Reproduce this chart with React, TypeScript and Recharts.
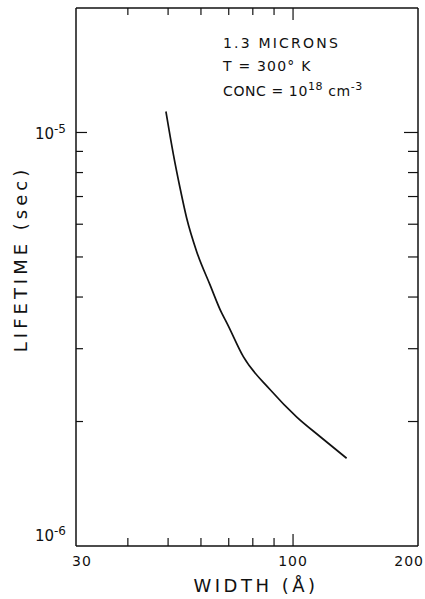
import { LineChart, Line, XAxis, YAxis, Label } from "recharts";

// lifetime vs well width, 1.3 microns, 300 K
const widths = [49.4, 51.5, 53.4, 55.4, 58.6, 63.1, 67.3, 69.2, 75.9, 88.0, 102.1, 116.1, 134.6];
const lifetimes = [11.24e-6, 8.84e-6, 7.36e-6, 6.22e-6, 5.15e-6, 4.28e-6, 3.66e-6, 3.47e-6, 2.87e-6, 2.39e-6, 2.05e-6, 1.84e-6, 1.63e-6];

const xTicks = [30, 40, 50, 60, 70, 80, 90, 100, 200];
const xLabels: Record<number, string> = { 30: "30", 100: "100", 200: "200" };
const yTicks = [1e-6, 2e-6, 3e-6, 4e-6, 5e-6, 6e-6, 7e-6, 8e-6, 9e-6, 1e-5, 2e-5];
const yLabels: Record<number, string> = { 1e-6: "-6", 1e-5: "-5" };

const data = widths.map((w, i) => ({ width: w, lifetime: lifetimes[i] }));

const FONT = "'DejaVu Sans', sans-serif";
const INK = "#111";

function BottomTick({ x, y, payload }: any) {
  const v = payload.value;
  const major = v === 100;
  const len = major ? 12 : 8;
  // the last label sits on the page edge, keep it inside
  const tx = v === 30 ? x + 6 : v === 200 ? x + 6 : x;
  const anchor = v === 200 ? "end" : "middle";
  return (
    <g>
      {v !== 30 && v !== 200 && <line x1={x} y1={y} x2={x} y2={y - len} stroke={INK} strokeWidth={1.2} />}
      {xLabels[v] && (
        <text x={tx} y={y + 20} textAnchor={anchor} fontFamily={FONT} fontSize={14} letterSpacing={1} fill={INK}>
          {xLabels[v]}
        </text>
      )}
    </g>
  );
}

function TopTick({ x, y, payload }: any) {
  const v = payload.value;
  if (v === 30 || v === 200) return <g />;
  const len = v === 100 ? 12 : 7;
  return <line x1={x} y1={y} x2={x} y2={y + len} stroke={INK} strokeWidth={1.2} />;
}

function PowerLabel({ x, y, exp }: { x: number; y: number; exp: string }) {
  return (
    <text x={x} y={y} textAnchor="end" fontFamily={FONT} fontSize={15} fill={INK}>
      10<tspan dy={-6} fontSize={12}>{exp}</tspan>
    </text>
  );
}

function LeftTick({ x, y, payload }: any) {
  const v = payload.value;
  if (v === 2e-5) return <g />;
  if (v === 1e-6) return <PowerLabel x={x - 10} y={y - 5} exp={yLabels[v]} />;
  const major = v === 1e-5;
  return (
    <g>
      <line x1={x} y1={y} x2={x + (major ? 11 : 7)} y2={y} stroke={INK} strokeWidth={1.2} />
      {major && <PowerLabel x={x - 10} y={y + 7} exp={yLabels[v]} />}
    </g>
  );
}

function RightTick({ x, y, payload }: any) {
  const v = payload.value;
  if (v === 1e-6 || v === 2e-5) return <g />;
  const len = v === 1e-5 ? 14 : 10;
  return <line x1={x} y1={y} x2={x - len} y2={y} stroke={INK} strokeWidth={1.2} />;
}

export default function App() {
  return (
    <div style={{ position: "absolute", left: 0, top: 0, background: "#fff" }}>
      <LineChart width={425} height={599} data={data} margin={{ top: 7, right: 6, bottom: 52, left: 0 }}>
        <XAxis
          dataKey="width"
          type="number"
          scale="log"
          domain={[30, 200]}
          ticks={xTicks}
          interval={0}
          height={1}
          tickSize={0}
          tickMargin={0}
          tickLine={false}
          tick={<BottomTick />}
          stroke={INK}
          strokeWidth={1.5}
        >
          <Label
            content={({ viewBox }: any) => (
              <text
                x={viewBox.x + viewBox.width / 2 + 9}
                y={viewBox.y + 46}
                textAnchor="middle"
                fontFamily={FONT}
                fontSize={18}
                letterSpacing={3.5}
                fill={INK}
              >
                WIDTH (Å)
              </text>
            )}
          />
        </XAxis>
        <XAxis
          xAxisId="top"
          orientation="top"
          dataKey="width"
          type="number"
          scale="log"
          domain={[30, 200]}
          ticks={xTicks}
          interval={0}
          height={1}
          tickSize={0}
          tickMargin={0}
          tickLine={false}
          tick={<TopTick />}
          stroke={INK}
          strokeWidth={1.5}
        />
        <YAxis
          type="number"
          scale="log"
          domain={[1e-6, 2e-5]}
          allowDataOverflow
          ticks={yTicks}
          interval={0}
          width={76}
          tickSize={0}
          tickMargin={0}
          tickLine={false}
          tick={<LeftTick />}
          stroke={INK}
          strokeWidth={1.5}
        >
          <Label
            content={({ viewBox }: any) => {
              const cx = 20;
              const cy = viewBox.y + viewBox.height / 2 - 18;
              return (
                <text
                  x={cx}
                  y={cy}
                  transform={`rotate(-90 ${cx} ${cy})`}
                  textAnchor="middle"
                  dominantBaseline="central"
                  fontFamily={FONT}
                  fontSize={18}
                  letterSpacing={4}
                  fill={INK}
                >
                  LIFETIME (sec)
                </text>
              );
            }}
          />
        </YAxis>
        <YAxis
          yAxisId="right"
          orientation="right"
          type="number"
          scale="log"
          domain={[1e-6, 2e-5]}
          allowDataOverflow
          ticks={yTicks}
          interval={0}
          width={1}
          tickSize={0}
          tickMargin={0}
          tickLine={false}
          tick={<RightTick />}
          stroke={INK}
          strokeWidth={1.5}
        />
        <Line
          dataKey="lifetime"
          type="monotone"
          stroke={INK}
          strokeWidth={1.7}
          dot={false}
          isAnimationActive={false}
        />
        <text fontFamily={FONT} fontSize={14} fill={INK}>
          <tspan x={223} y={48} letterSpacing={2.2}>1.3 MICRONS</tspan>
          <tspan x={223} y={71} letterSpacing={1.2}>T = 300° K</tspan>
          <tspan x={223} y={96} letterSpacing={0.6}>
            CONC = 10<tspan dy={-6} fontSize={11}>18</tspan>
            <tspan dy={6}> cm</tspan>
            <tspan dy={-6} fontSize={11}>-3</tspan>
          </tspan>
        </text>
      </LineChart>
    </div>
  );
}
